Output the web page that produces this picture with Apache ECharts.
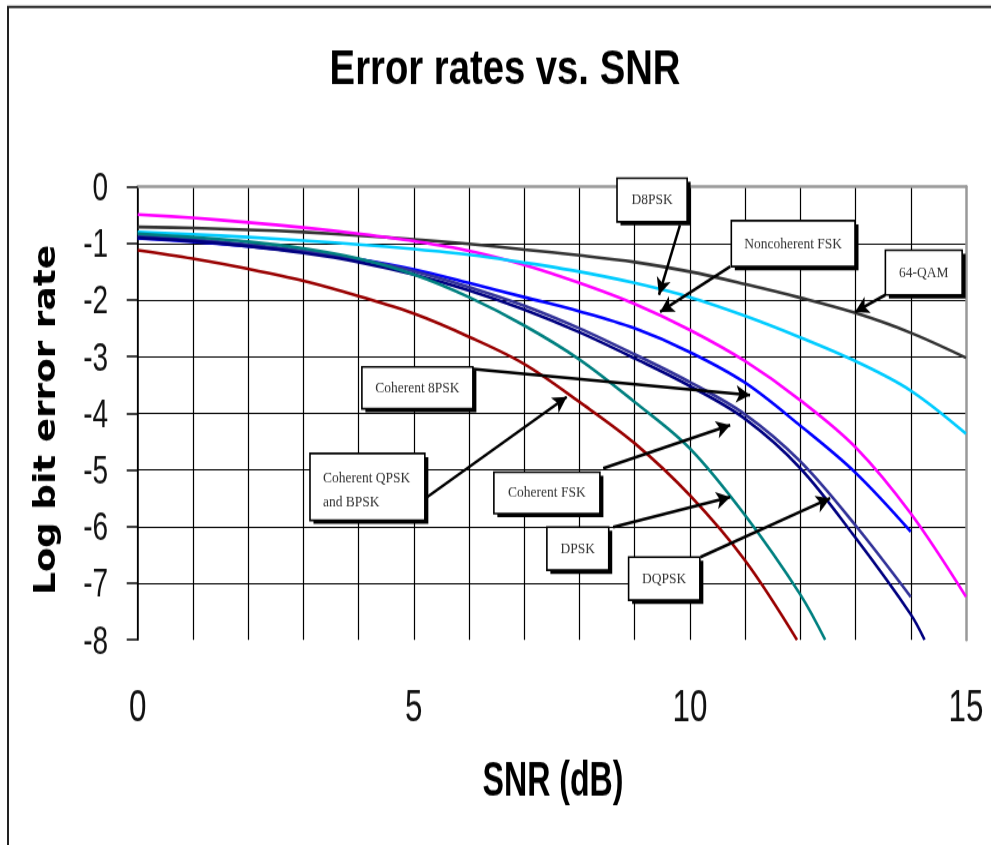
<!DOCTYPE html>
<html>
<head>
<meta charset="utf-8">
<script src="https://cdn.jsdelivr.net/npm/echarts@6/dist/echarts.min.js"></script>
<style>
html,body{margin:0;padding:0;background:#fff;overflow:hidden;}
#wrap{width:991px;height:845px;overflow:hidden;position:relative;}
#chart{width:991px;height:704.17px;transform:scaleY(1.2);transform-origin:0 0;}
</style>
</head>
<body>
<div id="wrap"><div id="chart"></div></div>
<script>
// ---- Data (SNR in dB, log10 bit error rate) ----
const snrDb = [0,1,2,3,4,5,6,7,8,9,10,11,12,13,14,15];
const snrTo14 = [0,1,2,3,4,5,6,7,8,9,10,11,12,13,14];
const snrDQPSK = [0,1,2,3,4,5,6,7,8,9,10,11,12,13,14,14.25];
const snrDPSK = [0,1,2,3,4,5,6,7,8,9,10,11,12,12.45];
const snrBPSK = [0,1,2,3,4,5,6,7,8,9,10,11,11.94];

const rateQAM64   = [-0.71,-0.73,-0.76,-0.80,-0.86,-0.93,-1.01,-1.11,-1.21,-1.33,-1.50,-1.72,-1.96,-2.23,-2.58,-3.02];
const rateNoncohFSK = [-0.49,-0.55,-0.63,-0.72,-0.83,-0.96,-1.13,-1.38,-1.70,-2.07,-2.53,-3.08,-3.77,-4.60,-5.77,-7.24];
const rateD8PSK   = [-0.80,-0.84,-0.89,-0.95,-1.02,-1.10,-1.20,-1.34,-1.50,-1.70,-1.95,-2.28,-2.66,-3.08,-3.60,-4.36];
const rateCoh8PSK = [-0.91,-0.97,-1.05,-1.15,-1.28,-1.46,-1.70,-1.95,-2.20,-2.50,-2.92,-3.46,-4.22,-5.05,-6.09];
const rateCohFSK  = [-0.87,-0.93,-1.02,-1.13,-1.28,-1.49,-1.77,-2.10,-2.50,-2.96,-3.45,-4.02,-4.85,-5.98,-7.24];
const rateDQPSK   = [-0.90,-0.96,-1.05,-1.17,-1.33,-1.55,-1.83,-2.17,-2.57,-3.03,-3.52,-4.10,-4.97,-6.20,-7.55,-8.00];
const rateDPSK    = [-0.83,-0.89,-0.97,-1.09,-1.27,-1.55,-1.95,-2.45,-3.05,-3.80,-4.62,-5.80,-7.20,-8.00];
const rateBPSK    = [-1.12,-1.27,-1.45,-1.66,-1.93,-2.24,-2.65,-3.13,-3.80,-4.53,-5.45,-6.60,-8.00];

const yTicks = [0,-1,-2,-3,-4,-5,-6,-7,-8];
const xTickLabels = [0,5,10,15];

// ---- Annotations (data coordinates) ----
const labelBoxes = [
  {text:'D8PSK', x0:8.68, y0:0.15, x1:9.95, y1:-0.62},
  {text:'Noncoherent FSK', x0:10.75, y0:-0.60, x1:12.99, y1:-1.41},
  {text:'64-QAM', x0:13.54, y0:-1.12, x1:14.93, y1:-1.91},
  {text:'Coherent 8PSK', x0:4.06, y0:-3.18, x1:6.07, y1:-3.92},
  {text:'Coherent QPSK\nand BPSK', x0:3.12, y0:-4.71, x1:5.20, y1:-5.89, left:true},
  {text:'Coherent FSK', x0:6.45, y0:-5.04, x1:8.37, y1:-5.77},
  {text:'DPSK', x0:7.41, y0:-6.01, x1:8.53, y1:-6.77},
  {text:'DQPSK', x0:8.89, y0:-6.54, x1:10.18, y1:-7.30}
];
const arrows = [
  [[9.82,-0.68],[9.44,-1.91]],
  [[10.73,-1.41],[9.46,-2.21]],
  [[13.54,-1.91],[12.99,-2.21]],
  [[6.07,-3.22],[11.09,-3.68]],
  [[5.24,-5.48],[7.77,-3.71]],
  [[8.43,-4.97],[10.73,-4.21]],
  [[8.61,-6.01],[10.73,-5.48]],
  [[10.19,-6.54],[12.54,-5.50]]
];

const curves = [
  {name:'64-QAM', x:snrDb, y:rateQAM64, color:'#333333'},
  {name:'Noncoherent FSK', x:snrDb, y:rateNoncohFSK, color:'#ff00ff'},
  {name:'D8PSK', x:snrDb, y:rateD8PSK, color:'#00ccff'},
  {name:'Coherent 8PSK', x:snrTo14, y:rateCoh8PSK, color:'#0000ff'},
  {name:'Coherent FSK', x:snrTo14, y:rateCohFSK, color:'#333399'},
  {name:'DQPSK', x:snrDQPSK, y:rateDQPSK, color:'#000080'},
  {name:'DPSK', x:snrDPSK, y:rateDPSK, color:'#008080'},
  {name:'Coherent QPSK and BPSK', x:snrBPSK, y:rateBPSK, color:'#990000'}
];

const SANS = "'Liberation Sans',Arial,sans-serif";

const chart = echarts.init(document.getElementById('chart'), null, {renderer:'canvas'});

const series = curves.map(c => ({
  name: c.name,
  type: 'line',
  data: c.x.map((v,i) => [v, c.y[i]]),
  showSymbol: false,
  symbol: 'none',
  smooth: 0.35,
  lineStyle: {color: c.color, width: 2.6},
  itemStyle: {color: c.color},
  z: 3,
  silent: true
}));

series.push({
  name: 'arrows',
  type: 'line',
  data: [],
  silent: true,
  z: 7,
  markLine: {
    silent: true,
    symbol: ['none','arrow'],
    symbolSize: [11, 14],
    label: {show: false},
    lineStyle: {color:'#000', width: 2.5, type:'solid'},
    emphasis: {disabled: true},
    data: arrows.map(a => [{coord: a[0]}, {coord: a[1]}])
  }
});

chart.setOption({
  animation: false,
  backgroundColor: '#fff',
  grid: {left: 137.7, right: 25, top: 155.6, bottom: 170.8, containLabel: false},
  xAxis: {
    type: 'value', min: 0, max: 15, interval: 1,
    axisLine: {show: true, lineStyle: {color:'#999', width: 2.5}},
    axisTick: {show: false},
    splitLine: {show: true, showMaxLine: false, lineStyle: {color:'#000', width: 1.2}},
    axisLabel: {show: false}
  },
  yAxis: [{
    type: 'value', min: -8, max: 0, interval: 1,
    axisLine: {show: true, lineStyle: {color:'#000', width: 1.5}},
    axisTick: {show: true, length: 11, lineStyle: {color:'#000', width: 1.5}},
    splitLine: {show: true, showMinLine: false, lineStyle: {color:'#000', width: 1.2}},
    axisLabel: {show: false}
  }, {
    type: 'value', min: -8, max: 0, interval: 1, position: 'right',
    axisLine: {show: true, lineStyle: {color:'#999', width: 2.5}},
    axisTick: {show: false}, axisLabel: {show: false}, splitLine: {show: false}
  }],
  series: series
});

const graphics = [];
// outer frame
graphics.push({
  type: 'polyline', z: 10, silent: true,
  shape: {points: [[8, 720], [8, 5.8], [1000, 5.8]]},
  style: {stroke: '#222', lineWidth: 2, fill: null}
});
// title & axis names (condensed via scaleX)
graphics.push({
  type: 'text', z: 10, silent: true, x: 505, y: 58.5, scaleX: 0.94,
  style: {text: 'Error rates vs. SNR', fontFamily: SANS,
          fontSize: 40.7, fontWeight: 'bold', fill: '#000', align: 'center', verticalAlign: 'middle'}
});
graphics.push({
  type: 'text', z: 10, silent: true, x: 553, y: 652, scaleX: 0.79,
  style: {text: 'SNR (dB)', fontFamily: SANS, fontSize: 40.7, fontWeight: 'bold',
          fill: '#000', align: 'center', verticalAlign: 'middle'}
});
graphics.push({
  type: 'text', z: 10, silent: true, x: 47.5, y: 350, rotation: Math.PI / 2,
  style: {text: 'Log bit error rate', fontFamily: "'DejaVu Sans',sans-serif", fontSize: 29.8,
          fontWeight: 'bold', fill: '#000', align: 'center', verticalAlign: 'middle'}
});

// tick labels placed through the axis scale
xTickLabels.forEach(v => {
  const p = chart.convertToPixel({gridIndex: 0}, [v, -8]);
  graphics.push({
    type: 'text', z: 10, silent: true, x: p[0], y: p[1] + 57.5, scaleX: 0.85,
    style: {text: String(v), fontFamily: SANS, fontSize: 36.9, fill: '#111',
            align: 'center', verticalAlign: 'middle'}
  });
});
yTicks.forEach(v => {
  const p = chart.convertToPixel({gridIndex: 0}, [0, v]);
  graphics.push({
    type: 'text', z: 10, silent: true, x: p[0] - 29.5, y: p[1] + 2.5, scaleX: 0.86,
    style: {text: String(v), fontFamily: SANS, fontSize: 32.6, fill: '#111',
            align: 'right', verticalAlign: 'middle'}
  });
});

// annotation boxes
labelBoxes.forEach(b => {
  const p0 = chart.convertToPixel({gridIndex: 0}, [b.x0, b.y0]);
  const p1 = chart.convertToPixel({gridIndex: 0}, [b.x1, b.y1]);
  const x = Math.min(p0[0], p1[0]), y = Math.min(p0[1], p1[1]);
  const w = Math.abs(p1[0] - p0[0]), h = Math.abs(p1[1] - p0[1]);
  graphics.push({
    type: 'rect', z: 5, silent: true,
    shape: {x: x + 3.5, y: y + 3, width: w, height: h},
    style: {fill: '#000'}
  });
  graphics.push({
    type: 'rect', z: 5, silent: true,
    shape: {x: x, y: y, width: w, height: h},
    style: {fill: '#fff', stroke: '#000', lineWidth: 1.6}
  });
  graphics.push({
    type: 'text', z: 6, silent: true,
    x: b.left ? x + 13 : x + w / 2, y: y + h / 2 + (b.left ? 2.5 : 0),
    style: {text: b.text, fontFamily: "'Liberation Serif','Times New Roman',serif", fontSize: 13.5,
            lineHeight: 19.7, fill: '#333', align: b.left ? 'left' : 'center', verticalAlign: 'middle'}
  });
});

chart.setOption({graphic: graphics});
</script>
</body>
</html>
